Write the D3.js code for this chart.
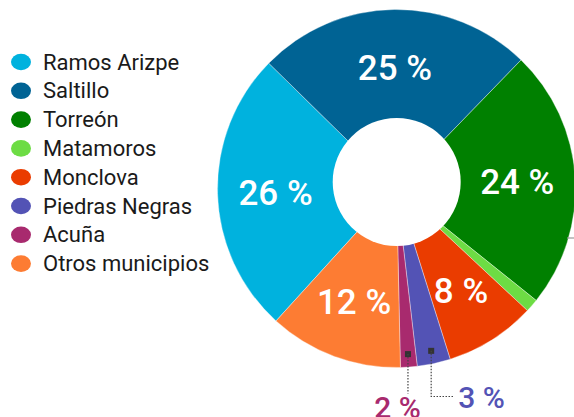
<!DOCTYPE html>
<html>
<head>
<meta charset="utf-8">
<script src="https://cdn.jsdelivr.net/npm/d3@7"></script>
<style>
    html, body { margin: 0; padding: 0; background: #fff; }
    svg { display: block; }
</style>
</head>
<body>
<div id="chart"></div>
<script>
/******************************************************
 * Donut chart: share by municipality (Coahuila)
*******************************************************/

//! DATA
const municipios = ["Ramos Arizpe", "Saltillo", "Torreón", "Matamoros", "Monclova", "Piedras Negras", "Acuña", "Otros municipios"];
const valores = [25.6, 24.9, 23.5, 1.2, 8.2, 3.0, 1.5, 12.1];
const etiquetas = ["26 %", "25 %", "24 %", "", "8 %", "3 %", "2 %", "12 %"];
const colores = ["#00b2de", "#006394", "#008000", "#6ddc44", "#ea3c00", "#5353b5", "#a82a6e", "#fd7c33"];

//! CONSTANTS
const WIDTH = 574;
const HEIGHT = 417;
const CX = 396.5, CY = 188.5;
const OUTER_R = 179;
const HOLE_R = 64;
const LABEL_R = 121;
const FONT = "Roboto, 'DejaVu Sans', sans-serif";

const svg = d3.select("#chart").append("svg")
    .attr("width", WIDTH)
    .attr("height", HEIGHT);

/******************************************************
 * Legend
*******************************************************/
const legend = svg.append("g").attr("transform", "translate(21,62)");
const rows = legend.selectAll("g.row")
    .data(municipios)
    .enter().append("g")
    .attr("transform", (d, i) => `translate(0,${i * 28.8})`);

rows.append("ellipse")
    .attr("rx", 10).attr("ry", 8.3)
    .style("fill", (d, i) => colores[i]);

rows.append("text")
    .attr("x", 22).attr("y", 7.5)
    .style("font-family", FONT)
    .style("font-size", "22px")
    .style("fill", "#1a1a1a")
    .text(d => d);

/******************************************************
 * Pie
*******************************************************/
const start = 222.3 * Math.PI / 180;
const pie = d3.pie().sort(null).value(d => d)
    .startAngle(start).endAngle(start + 2 * Math.PI);
const arcs = pie(valores);

const arc = d3.arc().innerRadius(0).outerRadius(OUTER_R);
const labelArc = d3.arc().innerRadius(LABEL_R).outerRadius(LABEL_R);
const markArc = d3.arc().innerRadius(166).outerRadius(166);

const g = svg.append("g").attr("transform", `translate(${CX},${CY})`);

g.selectAll("path.slice")
    .data(arcs)
    .enter().append("path")
    .attr("d", arc)
    .style("fill", (d, i) => colores[i])
    .style("stroke", "rgba(255,255,255,0.6)")
    .style("stroke-width", 0.6);

// hole (sits a little above the pie centre in the original)
svg.append("circle")
    .attr("cx", 396.7).attr("cy", 182)
    .attr("r", HOLE_R)
    .style("fill", "#fff");

// big labels inside the slices
const big = arcs.filter((d, i) => ["Ramos Arizpe", "Saltillo", "Torreón", "Monclova", "Otros municipios"].includes(municipios[d.index]));
g.selectAll("text.big")
    .data(big)
    .enter().append("text")
    .attr("x", d => labelArc.centroid(d)[0])
    .attr("y", d => labelArc.centroid(d)[1])
    .attr("dy", "0.36em")
    .attr("text-anchor", "middle")
    .style("font-family", FONT)
    .style("font-weight", 500)
    .style("font-size", "35px")
    .style("fill", "#fff")
    .text(d => etiquetas[d.index]);

/******************************************************
 * Leader lines for the thin slices
*******************************************************/
const small = [
    { idx: 6, drop: 205, dx: 0, anchor: "middle", tx: 0, ty: 229 },   // Acuña
    { idx: 5, drop: 208, dx: 23, anchor: "start", tx: 27, ty: 219 }   // Piedras Negras
];

small.forEach(s => {
    const [mx, my] = markArc.centroid(arcs[s.idx]);
    g.append("rect")
        .attr("x", mx - 3).attr("y", my - 3)
        .attr("width", 6).attr("height", 6)
        .style("fill", "#333");
    const pts = [[mx, my], [mx, s.drop]];
    if (s.dx) pts.push([mx + s.dx, s.drop]);
    g.append("path")
        .attr("d", d3.line()(pts))
        .style("fill", "none")
        .style("stroke", "#444")
        .style("stroke-width", 1.2)
        .style("stroke-dasharray", "1.5,1.5");
    g.append("text")
        .attr("x", mx + s.tx - (s.anchor === "middle" ? 10.5 : 0))
        .attr("y", s.ty)
        .attr("text-anchor", s.anchor)
        .style("font-family", FONT)
        .style("font-weight", 500)
        .style("font-size", "30px")
        .style("fill", colores[s.idx])
        .text(etiquetas[s.idx]);
});

// leader for Matamoros, its label falls outside the frame
svg.append("line")
    .attr("x1", 567).attr("x2", 590)
    .attr("y1", 238).attr("y2", 238)
    .style("stroke", "#999")
    .style("stroke-width", 1.2);
</script>
</body>
</html>
